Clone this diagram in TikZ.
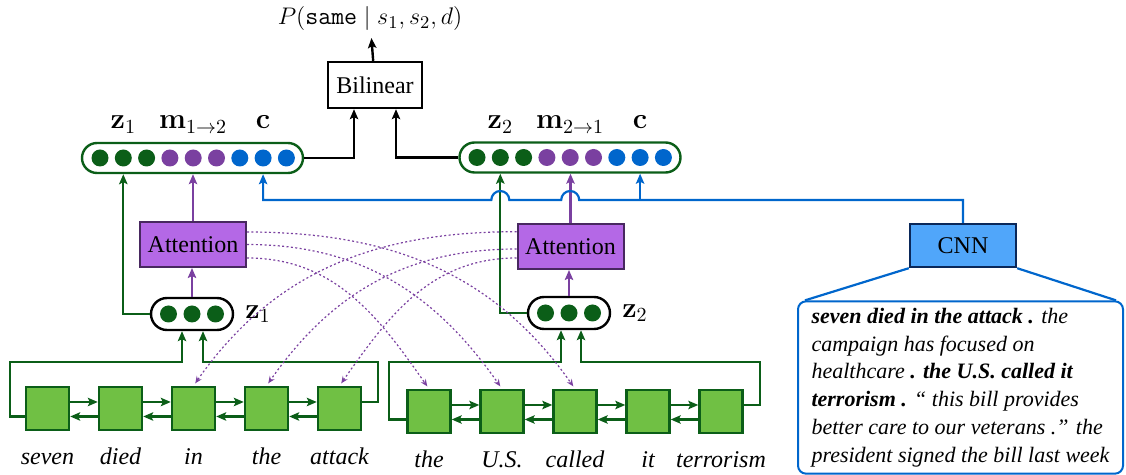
\documentclass[tikz,border=0pt]{standalone}
\usepackage[no-math]{fontspec}
\setmainfont{Liberation Serif}
\usetikzlibrary{positioning, arrows.meta}
\definecolor{dkgreen}{RGB}{11,94,24}
\definecolor{lstmgreen}{RGB}{112,192,68}
\definecolor{dotpurple}{RGB}{122,64,160}
\definecolor{attnfill}{RGB}{180,104,230}
\definecolor{attnline}{RGB}{72,40,96}
\definecolor{dotblue}{RGB}{0,102,204}
\definecolor{cnnfill}{RGB}{80,166,250}
\definecolor{cnnline}{RGB}{10,40,90}
\tikzset{
	>={Stealth[length=5pt, width=4.2pt, inset=1pt]},
	node distance=36.5pt,
	lstm/.style={draw=dkgreen, fill=lstmgreen, line width=1.2pt, minimum size=21.5pt, inner sep=0pt},
	word/.style={font=\fontsize{12}{14}\selectfont\itshape, inner sep=0pt, anchor=base},
	gdot/.style={circle, fill=dkgreen, minimum size=8.5pt, inner sep=0pt},
	pdot/.style={gdot, fill=dotpurple},
	bdot/.style={gdot, fill=dotblue},
	bigvec/.style={draw=dkgreen, line width=1.2pt, rounded corners=7.5pt, minimum width=110.5pt, minimum height=15pt},
	smallvec/.style={draw=black, line width=1.2pt, rounded corners=8pt, minimum width=41pt, minimum height=16pt},
	attn/.style={draw=attnline, fill=attnfill, line width=1pt, minimum width=53pt, minimum height=22.5pt, font=\fontsize{12}{14}\selectfont},
	bilbox/.style={draw=black, line width=1.2pt, minimum width=47pt, minimum height=23pt, font=\fontsize{12}{14}\selectfont},
	cnnbox/.style={draw=cnnline, fill=cnnfill, line width=1.2pt, minimum width=53pt, minimum height=21.5pt, font=\fontsize{12}{14}\selectfont},
	docbox/.style={draw=dotblue, line width=1pt, rounded corners=4pt, minimum width=162.5pt, minimum height=85.5pt, align=left, font=\fontsize{11}{13.9}\selectfont\itshape},
	mathlbl/.style={font=\fontsize{14.4}{17}\selectfont},
	gline/.style={draw=dkgreen, line width=1.1pt},
	pline/.style={draw=dotpurple, line width=1.1pt},
	bline/.style={draw=dotblue, line width=1.1pt},
	bkline/.style={draw=black, line width=1.2pt},
	attline/.style={draw=dotpurple, line width=0.6pt, dash pattern=on 1pt off 1.2pt, shorten >=1.5pt,
		-{Stealth[length=3.5pt, width=3pt]}},
}
\begin{document}
\begin{tikzpicture}[x=0.5pt, y=-0.5pt]
	\useasboundingbox (0,0) rectangle (1126,475);
	\coordinate (bus) at (0,200);

	% output
	\node[bilbox] (bil) at (375,85) {Bilinear};
	\node[font=\fontsize{12.6}{15}\selectfont, anchor=base] (prob) at (370,25) {$P(\texttt{same}\mid s_1, s_2, d)$};
	\draw[bkline, ->] (bil) -- (prob);

	% pair vectors
	\node[bigvec] (v1) at (192.5,158) {};
	\node[bigvec] (v2) at (570,157.5) {};
	\foreach \s [count=\i from 0] in {gdot,gdot,gdot,pdot,pdot,pdot,bdot,bdot,bdot} {
		\node[\s] (va\i) at (100+23.3*\i,158) {};
		\node[\s] (vb\i) at (477+23.3*\i,157.5) {};
	}
	\node[mathlbl, anchor=base] (za) at (va1 |- 0,129) {$\mathbf{z}_1$};
	\node[mathlbl, anchor=base] (ma) at (va4 |- 0,129) {$\mathbf{m}_{1\rightarrow 2}$};
	\node[mathlbl, anchor=base] (ca) at (va7 |- 0,129) {$\mathbf{c}$};
	\node[mathlbl, anchor=base] (zb) at (vb1 |- 0,129) {$\mathbf{z}_2$};
	\node[mathlbl, anchor=base] (mb) at (vb4 |- 0,129) {$\mathbf{m}_{2\rightarrow 1}$};
	\node[mathlbl, anchor=base] (cb) at (vb7 |- 0,129) {$\mathbf{c}$};
	\draw[bkline, ->] (v1.east) -| ([xshift=-10.5pt]bil.south);
	\draw[bkline, ->] (v2.west) -| ([xshift=10.5pt]bil.south);

	% sentence encoders
	\node[smallvec] (s1) at (192,314) {};
	\node[smallvec] (s2) at (569,313) {};
	\foreach \i in {0,1,2} {
		\node[gdot] (sa\i) at (168.5+23.5*\i,314) {};
		\node[gdot] (sb\i) at (545.5+23.5*\i,313) {};
	}
	\node[mathlbl, right=2pt of s1] (sza) {$\mathbf{z}_1$};
	\node[mathlbl, right=2pt of s2] (szb) {$\mathbf{z}_2$};
	\node[attn] (a1) at (193,244.5) {Attention};
	\node[attn] (a2) at (570.5,246.5) {Attention};

	% biLSTMs
	\node[lstm] (l1) at (47.5,408.5) {};
	\node[lstm, right of=l1] (l2) {};
	\node[lstm, right of=l2] (l3) {};
	\node[lstm, right of=l3] (l4) {};
	\node[lstm, right of=l4] (l5) {};
	\node[lstm] (r1) at (429,411.5) {};
	\node[lstm, right of=r1] (r2) {};
	\node[lstm, right of=r2] (r3) {};
	\node[lstm, right of=r3] (r4) {};
	\node[lstm, right of=r4] (r5) {};
	\node[below=16.5pt of l1, word] (wl1) {seven};
	\node[below=16.5pt of l2, word] (wl2) {died};
	\node[below=16.5pt of l3, word] (wl3) {in};
	\node[below=16.5pt of l4, word] (wl4) {the};
	\node[below=16.5pt of l5, word] (wl5) {attack};
	\node[below=16.5pt of r1, word] (wr1) {the};
	\node[below=16.5pt of r2, word] (wr2) {U.S.};
	\node[below=16.5pt of r3, word] (wr3) {called};
	\node[below=16.5pt of r4, word] (wr4) {it};
	\node[below=16.5pt of r5, word] (wr5) {terrorism};
	\foreach \a/\b in {l1/l2, l2/l3, l3/l4, l4/l5, r1/r2, r2/r3, r3/r4, r4/r5} {
		\draw[gline, ->] ([yshift=3.25pt]\a.east) -- ([yshift=3.25pt]\b.west);
		\draw[gline, ->] ([yshift=-4pt]\b.west) -- ([yshift=-4pt]\a.east);
	}
	\draw[gline, ->] ([yshift=-4pt]l1.west) -| (10,362) -| ([xshift=-5pt]s1.south);
	\draw[gline, ->] ([yshift=3.25pt]l5.east) -| (378,362) -| ([xshift=5.5pt]s1.south);
	\draw[gline, ->] ([yshift=-4pt]r1.west) -| (389,362) -| ([xshift=-4pt]s2.south);
	\draw[gline, ->] ([yshift=3.25pt]r5.east) -| (760,362) -| ([xshift=6pt]s2.south);

	% into the pair vectors
	\draw[gline, ->] (s1.west) -| (va1 |- v1.south);
	\draw[pline, ->] (s1.north) -- (s1.north |- a1.south);
	\draw[pline, ->] (a1.north) -- (a1.north |- v1.south);
	\draw[gline, ->] (s2.west) -| (vb1 |- v2.south);
	\draw[pline, ->] (s2.north) -- (s2.north |- a2.south);
	\draw[pline, ->] (a2.north) -- (a2.north |- v2.south);

	% attention over the other sentence
	\draw[attline] ([yshift=6.25pt]a1.east) to[out=0, in=125] (r3.north);
	\draw[attline] (a1.east) to[out=0, in=125] (r2.north);
	\draw[attline] ([yshift=-6.75pt]a1.east) to[out=0, in=125] (r1.north);
	\draw[attline] ([yshift=7.4pt]a2.west) to[out=180, in=55] (l3.north);
	\draw[attline] ([yshift=-1.25pt]a2.west) to[out=180, in=55] (l4.north);
	\draw[attline] ([yshift=-5.75pt]a2.west) to[out=180, in=55] (l5.north);

	% document context
	\node[cnnbox] (cnn) at (963,245.5) {CNN};
	\node[docbox] (doc) at (960.5,387.5) {\textbf{seven died in the attack .} the\\
		campaign has focused on\\
		healthcare \textbf{. the U.S. called it}\\
		\textbf{terrorism .} `` this bill provides\\
		better care to our veterans .'' the\\
		president signed the bill last week};
	\draw[bline] (cnn.south west) -- ([xshift=4pt]doc.north west);
	\draw[bline] (cnn.south east) -- ([xshift=-4pt]doc.north east);
	\draw[bline, ->] (cnn.north) |- ([xshift=4.5pt]vb4 |- bus)
		arc[start angle=0, end angle=180, radius=4.5pt] -- ([xshift=4.5pt]vb1 |- bus)
		arc[start angle=0, end angle=180, radius=4.5pt] -| (va7 |- v1.south);
	\draw[bline, ->] (vb7 |- bus) -- (vb7 |- v2.south);
\end{tikzpicture}
\end{document}
